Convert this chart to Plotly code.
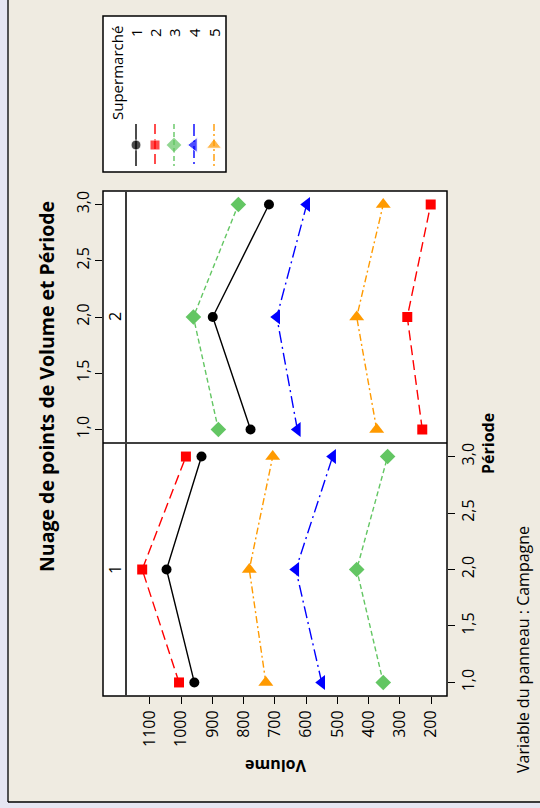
import plotly.graph_objects as go

# ---------------- data ----------------
periods = [1, 2, 3]
supermarches = ["1", "2", "3", "4", "5"]

# Campagne 1 (lower panel)
camp1_s1 = [958, 1047, 935]
camp1_s2 = [1007, 1125, 985]
camp1_s3 = [353, 438, 339]
camp1_s4 = [550, 633, 515]
camp1_s5 = [729, 782, 707]

# Campagne 2 (upper panel)
camp2_s1 = [778, 899, 719]
camp2_s2 = [228, 276, 201]
camp2_s3 = [881, 961, 817]
camp2_s4 = [628, 694, 598]
camp2_s5 = [374, 438, 353]

volume_ticks = [200, 300, 400, 500, 600, 700, 800, 900, 1000, 1100]
periode_ticks = [1.0, 1.5, 2.0, 2.5, 3.0]
periode_labels = ["1,0", "1,5", "2,0", "2,5", "3,0"]

# ---------------- styles ----------------
W, H = 540, 808
colors = ["#000000", "#FF0000", "#63C663", "#0000FF", "#FF9A00"]
symbols = ["circle", "square", "diamond", "triangle-left", "triangle-up"]
sizes = [10, 10, 12, 13, 13]
dashes = ["solid", "10px,5px", "5px,3px", "12px,4px,2px,4px", "7px,3px,2px,3px"]
FONT = "Open Sans"


def px(x):
    return x / W


def py(y):
    return 1 - y / H


fig = go.Figure()

camp1 = [camp1_s1, camp1_s2, camp1_s3, camp1_s4, camp1_s5]
camp2 = [camp2_s1, camp2_s2, camp2_s3, camp2_s4, camp2_s5]

for i in range(5):
    style = dict(
        mode="lines+markers",
        line=dict(color=colors[i], width=1.4, dash=dashes[i]),
        marker=dict(symbol=symbols[i], size=sizes[i], color=colors[i]),
        showlegend=False,
        hoverinfo="skip",
    )
    fig.add_trace(go.Scatter(x=camp1[i], y=periods, xaxis="x", yaxis="y", **style))
    fig.add_trace(go.Scatter(x=camp2[i], y=periods, xaxis="x2", yaxis="y2", **style))

# legend symbols drawn on a small hidden subplot (pixel-like coordinates)
leg_x = [136, 155, 174, 194, 214]
for i in range(5):
    fig.add_trace(go.Scatter(
        x=[leg_x[i], leg_x[i], leg_x[i]], y=[124, 145, 166],
        xaxis="x3", yaxis="y3", mode="lines+markers",
        line=dict(color=colors[i], width=1.4, dash=dashes[i]),
        marker=dict(symbol=symbols[i], size=[0, sizes[i], 0], color=colors[i]),
        showlegend=False, hoverinfo="skip"))

xdom = [px(103), px(447)]
xrange_ = [1250.5, 148.8]
yrange_ = [0.88, 3.12]
tickfont = dict(family=FONT, size=16, color="black")

fig.update_layout(
    width=W, height=H,
    margin=dict(l=0, r=0, t=0, b=0),
    paper_bgcolor="#EFEBE1",
    plot_bgcolor="white",
    showlegend=False,
    xaxis=dict(domain=xdom, range=xrange_, anchor="y", tickvals=volume_ticks,
               ticks="outside", ticklen=7, tickwidth=1.3, tickcolor="black",
               tickangle=-90, tickfont=tickfont, showgrid=False, zeroline=False,
               showline=False),
    xaxis2=dict(domain=xdom, range=xrange_, anchor="y2", showticklabels=False,
                ticks="", showgrid=False, zeroline=False, showline=False),
    yaxis=dict(domain=[py(696), py(443)], range=yrange_, anchor="x", side="right",
               tickvals=periode_ticks, ticktext=periode_labels, ticks="outside",
               ticklen=7, tickwidth=1.3, tickcolor="black", tickangle=-90,
               tickfont=tickfont, showgrid=False, zeroline=False, showline=False),
    yaxis2=dict(domain=[py(443), py(191)], range=yrange_, anchor="x2", side="left",
                tickvals=periode_ticks, ticktext=periode_labels, ticks="outside",
                ticklen=7, tickwidth=1.3, tickcolor="black", tickangle=-90,
                tickfont=tickfont, showgrid=False, zeroline=False, showline=False),
    xaxis3=dict(domain=[px(103), px(226)], range=[103, 226], anchor="y3",
                visible=False, fixedrange=True),
    yaxis3=dict(domain=[py(172), py(16)], range=[172, 16], anchor="x3",
                visible=False, fixedrange=True),
)

shapes = [
    # outer lavender border area
    dict(type="rect", xref="paper", yref="paper", x0=0, x1=px(8), y0=0, y1=1,
         fillcolor="#E6E6F2", line=dict(width=0), layer="below"),
    dict(type="rect", xref="paper", yref="paper", x0=0, x1=1, y0=0, y1=py(802),
         fillcolor="#E6E6F2", line=dict(width=0), layer="below"),
    dict(type="line", xref="paper", yref="paper", x0=px(8), x1=px(8), y0=py(802), y1=1,
         line=dict(color="black", width=1.3)),
    dict(type="line", xref="paper", yref="paper", x0=px(8), x1=1, y0=py(802), y1=py(802),
         line=dict(color="black", width=1.3)),
    # panel frame
    dict(type="rect", xref="paper", yref="paper", x0=px(103), x1=px(447), y0=py(696), y1=py(191),
         line=dict(color="black", width=1.5)),
    dict(type="line", xref="paper", yref="paper", x0=px(103), x1=px(447), y0=py(443), y1=py(443),
         line=dict(color="black", width=1.5)),
    dict(type="line", xref="paper", yref="paper", x0=px(126), x1=px(126), y0=py(696), y1=py(191),
         line=dict(color="#3A3A3A", width=2)),
    # legend box
    dict(type="rect", xref="paper", yref="paper", x0=px(103), x1=px(226), y0=py(172), y1=py(16),
         line=dict(color="black", width=1.5)),
]
fig.update_layout(shapes=shapes)


def ann(text, x, y, size, angle=-90, bold=False):
    return dict(text=("<b>%s</b>" % text) if bold else text, xref="paper", yref="paper",
                x=px(x), y=py(y), xanchor="center", yanchor="middle", textangle=angle,
                showarrow=False, font=dict(family=FONT, size=size, color="black"))


annotations = [
    ann("Nuage de points de Volume et Période", 46, 387, 19.5, bold=True),
    ann("Période", 488, 444, 16, bold=True),
    ann("Volume", 276, 766, 16, angle=180, bold=True),
    ann("Variable du panneau : Campagne", 523, 650, 16),
    ann("2", 115, 317, 16),
    ann("1", 115, 570, 16),
    ann("Supermarché", 117, 73, 15),
]
for i, s in enumerate(supermarches):
    annotations.append(ann(s, leg_x[i], 33, 15))
fig.update_layout(annotations=annotations)

fig.write_html(
    "out.html",
    config={"displayModeBar": False},
    post_script="document.body.style.margin='0';document.body.style.overflow='hidden';",
)
